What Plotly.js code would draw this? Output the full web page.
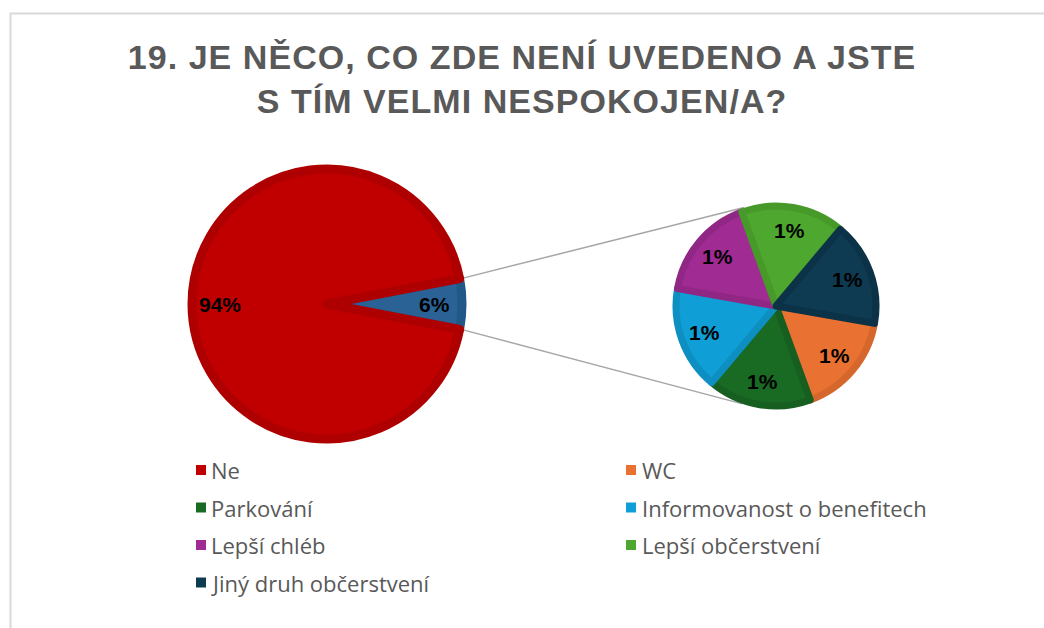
<!DOCTYPE html>
<html><head><meta charset="utf-8">
<script src="https://cdn.plot.ly/plotly-3.0.1.min.js"></script>
<style>
html,body{margin:0;padding:0;background:#fff;}
#chart{width:1044px;height:628px;}
.gtitle{letter-spacing:1.05px;}
</style></head><body><div id="chart"></div>
<script>
// ---- data ----
// split slice first so the large slice's border is drawn over its edges
const mainLabels = ["Ostatní", "Ne"];
const mainValues = [6, 94];
const mainColors = ["#2A6296", "#C00000"];
const mainLineColors = ["#225888", "#AE0000"];

const subLabels = ["WC", "Parkování", "Informovanost o benefitech", "Lepší chléb", "Lepší občerstvení", "Jiný druh občerstvení"];
const subValues = [1, 1, 1, 1, 1, 1];
const subColors = ["#E97132", "#196B24", "#0F9ED5", "#A02B93", "#4EA72E", "#0E3A52"];
const subLineColors = ["#D6672C", "#175F20", "#0D8FC2", "#912785", "#479A2A", "#0B3247"];

const legendLabels = [mainLabels[1]].concat(subLabels);
const legendColors = [mainColors[1]].concat(subColors);

const titleText = "19. JE NĚCO, CO ZDE NENÍ UVEDENO A JSTE<br>S TÍM VELMI NESPOKOJEN/A?";

// ---- geometry ----
const W = 1044, H = 628;
const P1 = {cx: 327, cy: 304, r: 135, lw: 9};
const P2 = {cx: 776, cy: 306, r: 100, lw: 7};

function dom(P) {
  return {x: [(P.cx - P.r) / W, (P.cx + P.r) / W], y: [1 - (P.cy + P.r) / H, 1 - (P.cy - P.r) / H]};
}
const sum = a => a.reduce((s, v) => s + v, 0);
const tot1 = sum(mainValues);
const splitShare = mainValues[0] / tot1;
const rot1 = 90 - 180 * splitShare;   // split slice centred at 3 o'clock
const rot2 = 100;

function pt(P, rr, clockDeg) {
  const a = clockDeg * Math.PI / 180;
  return [P.cx + rr * Math.sin(a), P.cy - rr * Math.cos(a)];
}

const labelFont = {family: 'Liberation Sans, Arial, sans-serif', size: 21, color: '#000000', weight: 'bold'};
const annotations = [];
{
  let cum = 0;
  mainValues.forEach(v => {
    const mid = rot1 + 360 * (cum + v / 2) / tot1; cum += v;
    const p = pt(P1, (P1.r + P1.lw / 2) * 0.77, mid);
    annotations.push({x: p[0] / W, y: 1 - p[1] / H, xref: 'paper', yref: 'paper',
      text: Math.round(100 * v / tot1) + '%', showarrow: false, xanchor: 'center', yanchor: 'middle', font: labelFont});
  });
}
{
  const tot2 = sum(subValues);
  let cum = 0;
  subValues.forEach(v => {
    const mid = rot2 + 360 * (cum + v / 2) / tot2; cum += v;
    const p = pt(P2, (P2.r + P2.lw / 2) * 0.74, mid);
    annotations.push({x: p[0] / W, y: 1 - p[1] / H, xref: 'paper', yref: 'paper',
      text: Math.round(v) + '%', showarrow: false, xanchor: 'center', yanchor: 'middle', font: labelFont});
  });
}

const shapes = [];
shapes.push({type: 'rect', xref: 'paper', yref: 'paper', x0: 10.5 / W, x1: 1.02, y0: -0.02, y1: 1 - 13.5 / H,
  line: {color: '#D9D9D9', width: 2}, fillcolor: 'rgba(0,0,0,0)', layer: 'below'});

{
  const R1 = P1.r + P1.lw / 2, R2 = P2.r + P2.lw / 2;
  const a0 = rot1;                              // upper edge of split slice
  const a1 = rot1 + 360 * splitShare;           // lower edge
  const s0 = pt(P1, R1, a0), s1 = pt(P1, R1, a1);
  const e0 = pt(P2, R2, 342), e1 = pt(P2, R2, 199);
  [[s0, e0], [s1, e1]].forEach(([s, e]) => {
    shapes.push({type: 'line', xref: 'paper', yref: 'paper', x0: s[0] / W, y0: 1 - s[1] / H, x1: e[0] / W, y1: 1 - e[1] / H,
      line: {color: '#A6A6A6', width: 1.5}, layer: 'below'});
  });
}

const colSq = [196, 626], colTx = [209, 640];
legendLabels.forEach((lab, i) => {
  const row = Math.floor(i / 2), col = i % 2;
  const y = 470 + 37.5 * row;
  shapes.push({type: 'rect', xref: 'paper', yref: 'paper', x0: colSq[col] / W, x1: (colSq[col] + 10) / W,
    y0: 1 - (y + 5) / H, y1: 1 - (y - 5) / H, line: {width: 0}, fillcolor: legendColors[i]});
  annotations.push({x: colTx[col] / W, y: 1 - y / H, xref: 'paper', yref: 'paper', text: lab, showarrow: false,
    xanchor: 'left', yanchor: 'middle', font: {family: 'Open Sans, Liberation Sans, sans-serif', size: 22, color: '#595959'}});
});

const data = [
  {type: 'pie', labels: mainLabels, values: mainValues, sort: false, direction: 'clockwise', rotation: rot1,
   domain: dom(P1), textinfo: 'none', showlegend: false, hoverinfo: 'label+percent',
   marker: {colors: mainColors, line: {color: mainLineColors, width: P1.lw}}},
  {type: 'pie', labels: subLabels, values: subValues, sort: false, direction: 'clockwise', rotation: rot2,
   domain: dom(P2), textinfo: 'none', showlegend: false, hoverinfo: 'label',
   marker: {colors: subColors, line: {color: subLineColors, width: P2.lw}}}
];

const layout = {
  width: W, height: H, margin: {l: 0, r: 0, t: 0, b: 0},
  paper_bgcolor: '#FFFFFF', plot_bgcolor: '#FFFFFF',
  showlegend: false,
  title: {text: titleText, x: 0.5, xanchor: 'center', y: 1 - 69 / H, yanchor: 'middle',
    font: {family: 'Liberation Sans, Arial, sans-serif', size: 34, color: '#595959', weight: 'bold'}},
  annotations: annotations, shapes: shapes
};

Plotly.newPlot('chart', data, layout, {staticPlot: true, displayModeBar: false});
</script></body></html>
